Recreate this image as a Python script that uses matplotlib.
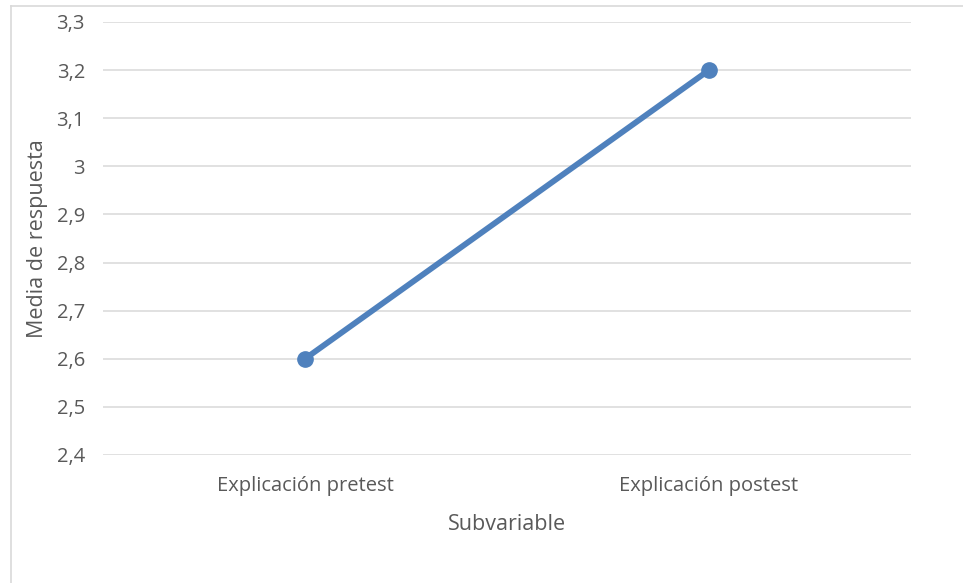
import matplotlib
matplotlib.use("Agg")
import matplotlib.pyplot as plt
from matplotlib.lines import Line2D
from matplotlib.ticker import FuncFormatter

categories = ["Explicación pretest", "Explicación postest"]
values = [2.6, 3.2]
yticks = [2.4, 2.5, 2.6, 2.7, 2.8, 2.9, 3.0, 3.1, 3.2, 3.3]

plt.rcParams['font.family'] = ['Open Sans', 'DejaVu Sans']
text_color = "#595959"
grid_color = "#D9D9D9"

fig = plt.figure(figsize=(9.63, 5.83), dpi=100)
ax = fig.add_axes([103 / 963, 1 - 455 / 583, 808 / 963, 433 / 583])

x = list(range(len(categories)))
ax.plot(x, values, color="#4F81BD", linewidth=4.2, marker="o", markersize=11,
        solid_capstyle="round", zorder=3)

ax.set_xlim(-0.5, len(categories) - 0.5)
ax.set_ylim(2.4, 3.3)
ax.set_yticks(yticks)
ax.yaxis.set_major_formatter(FuncFormatter(
    lambda v, p: ("%g" % round(v, 1)).replace(".", ",")))
ax.set_xticks(x)
ax.set_xticklabels(categories)

ax.grid(axis="y", color=grid_color, linewidth=1.1)
ax.set_axisbelow(True)
for s in ax.spines.values():
    s.set_visible(False)
ax.tick_params(length=0, colors=text_color, labelsize=14.5)
ax.tick_params(axis="y", pad=13)
ax.tick_params(axis="x", pad=15)

ax.set_ylabel("Media de respuesta", fontsize=15.5, color=text_color)
ax.yaxis.set_label_coords(-55 / 808, 0.5)
ax.set_xlabel("Subvariable", fontsize=15.5, color=text_color)
ax.xaxis.set_label_coords(0.5, -59 / 433)

# chart border (left and top edges visible)
fig.add_artist(Line2D([11 / 963, 11 / 963], [0, 1 - 6 / 583],
                      transform=fig.transFigure, color=grid_color, linewidth=1.2))
fig.add_artist(Line2D([11 / 963, 1], [1 - 6 / 583, 1 - 6 / 583],
                      transform=fig.transFigure, color=grid_color, linewidth=1.2))

fig.savefig("out.png", dpi=100)
